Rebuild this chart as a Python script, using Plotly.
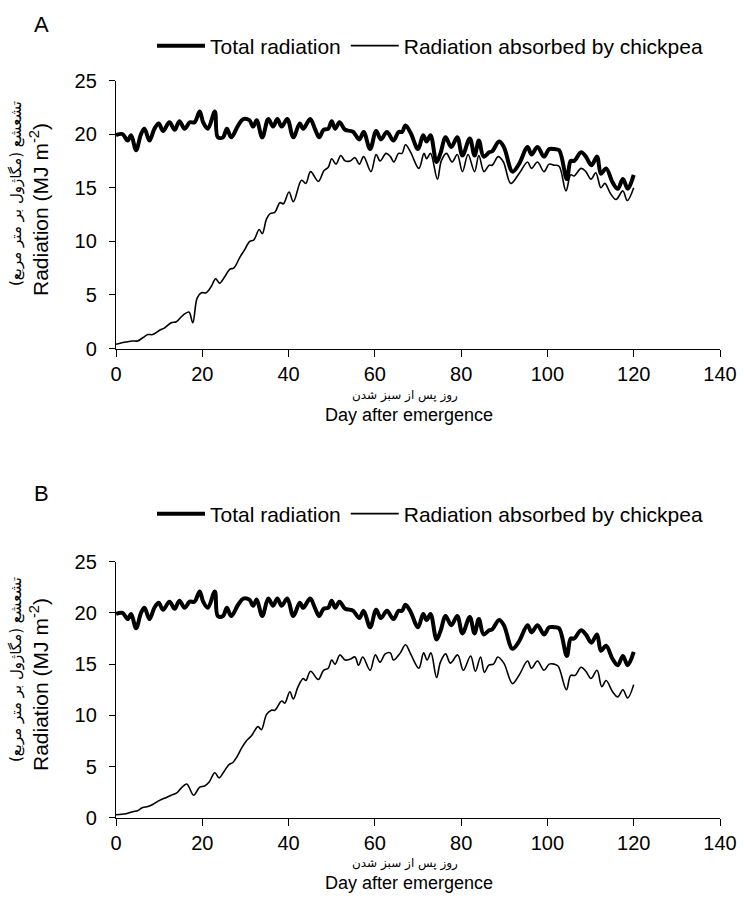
import plotly.graph_objects as go

# ---- data ----
total_days = [0, 1.5, 2.7, 3.5, 4.65, 5.8, 6.6, 7.75, 8.9, 9.9, 10.9, 12.4, 13.6, 14.7, 15.9, 17.1, 18.2,
              19.4, 20.2, 21.3, 22.9, 23.6, 24.8, 25.7, 26.7, 28.3, 29.5, 30.9, 31.8, 32.6, 33.9, 35.3,
              36.4, 37.4, 38.4, 39.7, 41.1, 42.6, 43.4, 45.0, 46.1, 47.1, 48.1, 49.2, 50.0, 50.8, 51.8,
              53.1, 54.3, 55.0, 56.4, 57.4, 58.9, 60.3, 61.4, 62.8, 64.3, 65.5, 66.3, 67.1, 68.3, 70.0,
              71.2, 72.0, 72.9, 74.3, 75.2, 76.4, 77.7, 79.1, 80.3, 82.0, 83.1, 84.1, 85.2, 86.5, 87.2,
              88.8, 89.9, 91.9, 93.4, 95.4, 96.3, 97.7, 99.2, 100.4, 101.6, 102.7, 104.5, 105.4, 106.2,
              107.8, 108.9, 110.2, 111.5, 112.4, 113.6, 115.1, 116.3, 117.5, 118.6, 120]
total_rad = [19.9, 20.0, 19.4, 19.9, 18.5, 20.0, 20.5, 19.4, 20.5, 21.0, 20.3, 21.1, 20.4, 21.2, 20.5, 21.1, 21.1,
             22.1, 21.1, 20.5, 22.1, 19.7, 19.7, 20.5, 19.7, 20.8, 21.4, 21.3, 20.7, 21.3, 19.7, 21.4,
             20.7, 21.4, 20.7, 21.4, 19.7, 21.0, 20.5, 21.4, 20.5, 19.7, 20.4, 20.5, 21.2, 20.5, 21.1,
             20.4, 20.3, 20.2, 19.5, 20.2, 18.6, 20.3, 19.5, 20.2, 19.4, 20.2, 20.2, 20.8, 20.1, 18.6,
             19.9, 19.3, 19.9, 17.4, 18.2, 19.7, 18.8, 19.7, 18.0, 19.6, 18.0, 19.4, 17.9, 18.3, 18.4,
             19.3, 18.8, 16.5, 17.2, 18.8, 18.1, 18.8, 17.9, 18.6, 18.6, 18.5, 15.8, 17.5, 17.5,
             18.3, 17.9, 17.1, 17.9, 16.3, 16.8, 15.5, 14.9, 15.8, 14.9, 16.2]

absA_days = [0, 2.3, 3.9, 5.0, 6.2, 7.4, 8.5, 10.1, 11.2, 12.8, 14.0, 15.5, 16.9, 17.8, 18.8, 19.8, 20.9,
             22.1, 23.1, 24.0, 25.2, 26.4, 27.3, 28.7, 29.8, 31.0, 31.9, 33.2, 33.9, 34.9, 35.8, 36.8,
             38.0, 38.8, 40.1, 41.1, 43.0, 44.0, 45.1, 46.9, 48.2, 49.2, 50.0, 51.0, 52.1, 53.1, 54.3,
             55.4, 56.4, 57.4, 59.1, 60.3, 61.2, 62.6, 63.6, 64.4, 65.5, 66.3, 67.1, 68.3, 70.2, 71.4,
             72.0, 72.9, 74.5, 75.4, 76.6, 77.9, 79.1, 80.3, 81.6, 83.1, 84.1, 85.3, 86.5, 87.2, 88.6,
             89.8, 91.5, 93.4, 95.4, 96.3, 97.7, 99.2, 100.4, 101.6, 102.7, 104.3, 105.4, 106.2, 107.8,
             108.9, 110.1, 111.2, 112.4, 113.3, 114.7, 115.9, 117.5, 118.5, 120]
absA_rad = [0.4, 0.6, 0.7, 0.7, 1.0, 1.3, 1.3, 1.7, 1.9, 2.4, 2.5, 3.1, 3.4, 2.4, 4.7, 5.2, 5.2,
            5.8, 6.5, 6.1, 6.7, 7.4, 7.5, 8.5, 9.2, 10.0, 10.1, 11.1, 10.7, 12.1, 12.6, 12.7,
            13.6, 13.5, 14.6, 13.7, 15.7, 15.4, 16.5, 15.6, 16.6, 16.9, 17.7, 17.2, 18.0, 17.5, 17.5,
            17.8, 17.2, 17.9, 16.5, 18.1, 17.5, 18.2, 17.9, 17.4, 18.2, 18.2, 19.0, 18.3, 16.8, 18.2,
            17.7, 18.2, 15.8, 17.5, 18.2, 17.4, 18.1, 16.5, 18.1, 16.5, 18.0, 16.5, 17.1, 17.1, 17.9,
            17.4, 15.4, 16.3, 17.4, 16.8, 17.4, 16.5, 17.2, 17.1, 17.0, 14.7, 16.2, 16.1, 16.8,
            16.5, 15.8, 16.4, 15.0, 15.4, 14.4, 13.9, 14.7, 13.8, 15.0]

absB_days = [0, 2.3, 3.9, 5.0, 6.2, 7.4, 8.5, 10.1, 11.2, 12.8, 14.0, 15.1, 16.4, 18.0, 19.4, 20.5, 21.6,
             22.9, 23.9, 25.0, 26.2, 27.1, 28.1, 29.1, 30.2, 31.4, 32.9, 33.7, 34.9, 36.0, 36.8, 38.4,
             39.1, 40.3, 41.1, 42.2, 43.4, 44.0, 45.1, 46.9, 48.1, 49.2, 50.0, 50.8, 51.9, 53.1, 54.3,
             55.4, 56.2, 57.2, 58.9, 60.1, 61.2, 62.4, 63.6, 64.3, 65.9, 67.1, 68.4, 70.2, 71.3, 72.1,
             73.0, 74.3, 75.2, 76.4, 77.5, 79.2, 80.5, 82.2, 83.3, 84.5, 85.4, 86.4, 87.5, 88.5, 89.9,
             91.9, 93.4, 95.4, 96.3, 97.7, 99.2, 100.4, 101.6, 102.5, 104.4, 105.4, 106.4, 107.8, 108.9,
             110.1, 111.5, 112.6, 113.6, 115.1, 116.3, 117.5, 118.6, 120]
absB_rad = [0.3, 0.4, 0.6, 0.7, 1.0, 1.1, 1.3, 1.7, 1.9, 2.2, 2.4, 2.9, 3.3, 2.2, 3.0, 3.1, 3.5,
            4.4, 3.9, 4.5, 5.2, 5.4, 6.0, 6.8, 7.5, 8.0, 8.9, 8.6, 10.1, 10.5, 10.5, 11.4,
            11.2, 12.3, 11.6, 12.8, 13.6, 13.4, 14.3, 13.5, 14.4, 14.6, 15.4, 15.0, 15.9, 15.4, 15.5,
            15.7, 14.9, 15.7, 14.4, 15.9, 15.2, 16.0, 16.1, 15.4, 16.1, 16.9, 15.9, 14.6, 16.1, 15.4,
            16.1, 13.7, 15.2, 16.0, 15.1, 15.9, 14.4, 15.8, 14.3, 15.7, 14.2, 14.9, 15.0, 15.7, 15.1,
            13.1, 13.9, 15.3, 14.6, 15.3, 14.4, 15.0, 15.0, 14.8, 12.5, 13.9, 13.9, 14.7, 14.3,
            13.6, 14.4, 12.8, 13.4, 12.3, 11.8, 12.5, 11.7, 13.0]

x_ticks = [0, 20, 40, 60, 80, 100, 120, 140]
y_ticks = [0, 5, 10, 15, 20, 25]
series_names = ["Total radiation", "Radiation absorbed by chickpea"]
panel_labels = ["A", "B"]
y_title_en = "Radiation (MJ m<sup>-2</sup>)"
y_title_fa = "تشعشع (مگاژول بر متر مربع)"
x_title_en = "Day after emergence"
x_title_fa = "روز پس از سبز شدن"

W, H = 744, 924
FONT = "Liberation Sans, Arial, sans-serif"
FA_FONT = "DejaVu Sans, Noto Sans, sans-serif"

fig = go.Figure()

def add_panel(xa, ya, leg, absx, absy):
    fig.add_trace(go.Scatter(x=total_days, y=total_rad, mode="lines", name=series_names[0],
                             line=dict(color="black", width=4, shape="spline", smoothing=1.0),
                             xaxis=xa, yaxis=ya, legend=leg))
    fig.add_trace(go.Scatter(x=absx, y=absy, mode="lines", name=series_names[1],
                             line=dict(color="black", width=1.6, shape="spline", smoothing=1.0),
                             xaxis=xa, yaxis=ya, legend=leg))

add_panel("x", "y", "legend", absA_days, absA_rad)
add_panel("x2", "y2", "legend2", absB_days, absB_rad)

xdom = [116 / W, 720 / W]
ydomA = [1 - 348.5 / H, 1 - 80.5 / H]
ydomB = [1 - 817.8 / H, 1 - 561.7 / H]

axis_common = dict(showgrid=False, zeroline=False, showline=True, linecolor="black", linewidth=1.3,
                   ticks="outside", tickcolor="black", tickwidth=1.3,
                   tickfont=dict(family=FONT, size=20, color="black"))

xa = dict(axis_common, range=[0, 140], tickvals=x_ticks, ticklen=7, domain=xdom)
ya = dict(axis_common, range=[0, 25], tickvals=y_ticks, ticklen=6, ticklabelstandoff=8)

leg_common = dict(orientation="h", xanchor="left", yanchor="middle",
                  font=dict(family=FONT, size=21, color="black"), bgcolor="rgba(0,0,0,0)",
                  itemwidth=48, tracegroupgap=0)

fig.update_layout(
    width=W, height=H,
    margin=dict(l=0, r=0, t=0, b=0, autoexpand=False),
    paper_bgcolor="white", plot_bgcolor="white",
    xaxis=dict(xa, anchor="y"),
    yaxis=dict(ya, domain=ydomA, anchor="x"),
    xaxis2=dict(xa, anchor="y2"),
    yaxis2=dict(ya, domain=ydomB, anchor="x2"),
    legend=dict(leg_common, x=152 / W, y=1 - 46 / H),
    legend2=dict(leg_common, x=152 / W, y=1 - 514 / H),
    showlegend=True,
)

ann = []
for lab, ycen, yen_mid, yfa_mid, yfa, yen in [(panel_labels[0], 25, 210, 194, 395, 415),
                                              (panel_labels[1], 493, 685, 670, 863, 883)]:
    def a(text, xpx, ypx, font, angle=0):
        return dict(text=text, x=xpx / W, y=1 - ypx / H, xref="paper", yref="paper",
                    xanchor="center", yanchor="middle", textangle=angle, showarrow=False, font=font)
    ann.append(a(lab, 41, ycen, dict(family=FONT, size=22, color="black")))
    ann.append(a(y_title_en, 39, yen_mid, dict(family=FONT, size=21, color="black"), -90))
    ann.append(a(y_title_fa, 16, yfa_mid, dict(family=FA_FONT, size=15, color="black"), -90))
    ann.append(a(x_title_fa, 405, yfa, dict(family=FA_FONT, size=12, color="black")))
    ann.append(a(x_title_en, 409, yen, dict(family=FONT, size=18, color="black")))
fig.update_layout(annotations=ann)

fig.write_html("out.html")
